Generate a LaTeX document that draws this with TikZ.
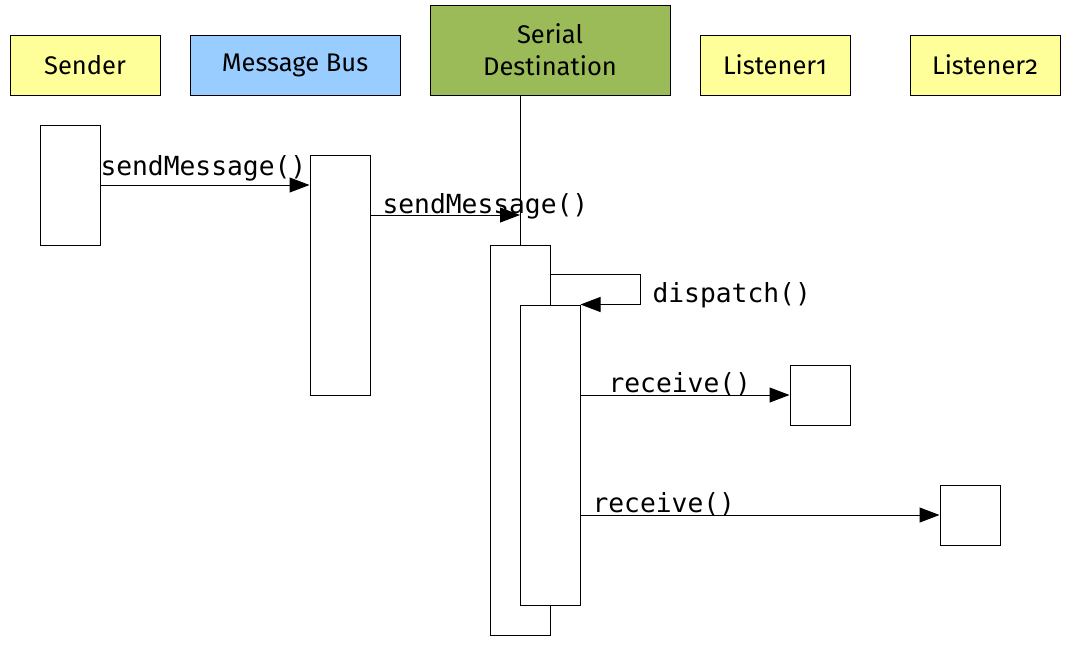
\documentclass[tikz,border=0pt]{standalone}
\usepackage{fontspec}
\setsansfont[Numbers=OldStyle]{Fira Sans}
\setmonofont{DejaVu Sans Mono}
\usetikzlibrary{arrows.meta}
\definecolor{noteyellow}{HTML}{FFFF99}
\definecolor{busblue}{HTML}{99CCFF}
\definecolor{destgreen}{HTML}{9BBB59}
\begin{document}
\begin{tikzpicture}[x=1pt, y=-1pt,
	every node/.style={rectangle, draw=black, line width=1pt, font=\sffamily\fontsize{25.5}{32}\selectfont},
	actor/.style={fill=noteyellow, minimum width=150pt, minimum height=60pt},
	bus/.style={fill=busblue, minimum width=210pt, minimum height=60pt},
	dest/.style={fill=destgreen, minimum width=240pt, minimum height=90pt, align=center},
	activation/.style={fill=white, minimum width=60pt},
	msg/.style={line width=1pt, -{Triangle[length=20pt,width=15pt]}},
	call/.style={draw=none, anchor=base west, inner sep=0pt, font=\ttfamily\fontsize{26.3}{30}\selectfont}]
	\useasboundingbox (0,0) rectangle (1078,646);
	% heads
	\node[actor] (sender) at (85,65) {Sender};
	\node[bus] (msgbus) at (295,65) {Message Bus};
	\node[dest] (serial) at (550,50) {Serial\\Destination};
	\node[actor] (listenerA) at (775,65) {Listener1};
	\node[actor] (listenerB) at (985,65) {Listener2};
	% activations
	\node[activation, minimum height=120pt] (actSender) at (70,185) {};
	\node[activation, minimum height=240pt] (actBus) at (340,275) {};
	\node[activation, minimum height=390pt] (actSerial) at (520,440) {};
	\node[activation, minimum height=300pt] (actDispatch) at (550,455) {};
	\node[activation, minimum height=60pt] (actListenerA) at (820,395) {};
	\node[activation, minimum height=60pt] (actListenerB) at (970,515) {};
	\draw[line width=1pt] (actSerial.north |- serial.south) -- (actSerial.north);
	\coordinate (busOut) at (370,215);
	% messages
	\draw[msg] (actSender.east) -- (actBus.west |- actSender.east);
	\node[call] (lblSend) at (100,175) {sendMessage()};
	\draw[msg] (busOut) -- (actSerial.north |- busOut);
	\node[call] (lblForward) at (382,213) {sendMessage()};
	\draw[msg] (actSerial.north east) ++(0,30) -- ++(90,0) |- (actDispatch.north east);
	\node[call] (lblDispatch) at (652,302) {dispatch()};
	\draw[msg] (actDispatch.east |- actListenerA.west) -- (actListenerA.west);
	\node[call] (lblReceiveA) at (608,392) {receive()};
	\draw[msg] (actDispatch.east |- actListenerB.west) -- (actListenerB.west);
	\node[call] (lblReceiveB) at (592,512) {receive()};
\end{tikzpicture}
\end{document}
